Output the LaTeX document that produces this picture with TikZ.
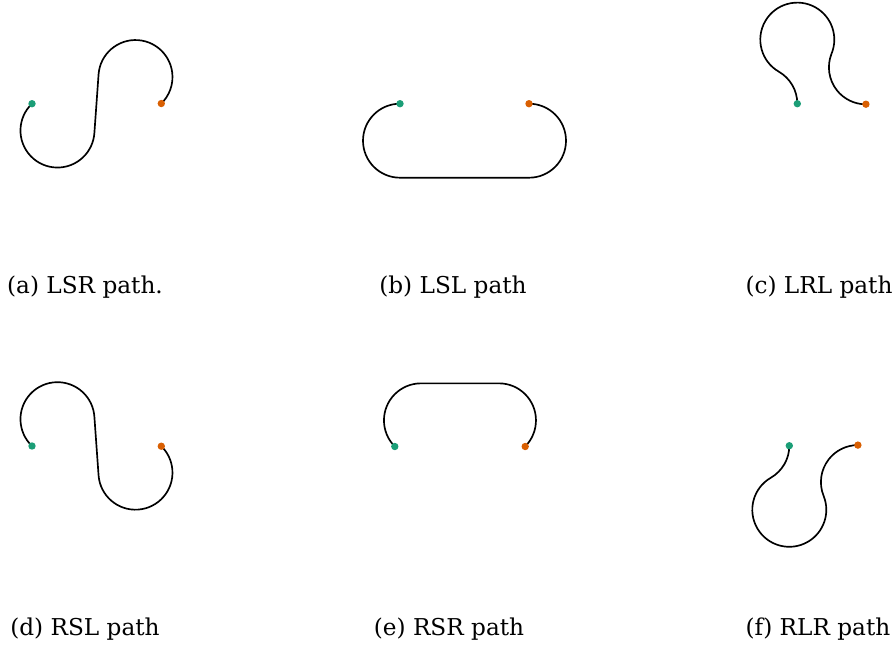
\documentclass[tikz,border=0pt]{standalone}
\usepackage{fontspec}
\setmainfont{DejaVu Serif}
\definecolor{startgreen}{HTML}{1B9E77}
\definecolor{goalorange}{HTML}{D95F02}
\begin{document}
\begin{tikzpicture}[x=0.02cm,y=-0.02cm,
  dubins/.style={line width=0.95pt},
  startdot/.style={circle,fill=startgreen,inner sep=0pt,minimum size=4.2pt},
  goaldot/.style={circle,fill=goalorange,inner sep=0pt,minimum size=4.2pt},
  caption/.style={anchor=base,font=\fontsize{13.2}{16}\selectfont}]
\useasboundingbox (0,0) rectangle (895,650);

% start and goal poses
\coordinate (sA) at (32,103.7);    \coordinate (gA) at (161.3,103.5);
\coordinate (sB) at (400,103.7);   \coordinate (gB) at (529,103.7);
\coordinate (sC) at (797.3,103.7); \coordinate (gC) at (865.9,104.2);
\coordinate (sD) at (32,446);      \coordinate (gD) at (161.3,446.2);
\coordinate (sE) at (394.8,446.5); \coordinate (gE) at (525.2,446.5);
\coordinate (sF) at (789.3,445.7); \coordinate (gF) at (857.9,445.1);

% top row
\draw[dubins] (sA) arc[start angle=226.5,end angle=4.1,radius=37] -- ++(4.2,-58.8)
  arc[start angle=184.1,end angle=405.8,radius=37];
\draw[dubins] (sB) arc[start angle=270,end angle=90,radius=37] -- ++(129,0)
  arc[start angle=90,end angle=-90,radius=37];
\draw[dubins] (sC) arc[start angle=360,end angle=300,radius=37]
  arc[start angle=120,end angle=382,radius=37]
  arc[start angle=202,end angle=90,radius=37];

% bottom row
\draw[dubins] (sD) arc[start angle=133.5,end angle=355.9,radius=37] -- ++(4.2,58.8)
  arc[start angle=175.9,end angle=-45.8,radius=37];
\draw[dubins] (sE) arc[start angle=135,end angle=270,radius=37] -- ++(78,0)
  arc[start angle=270,end angle=405,radius=37];
\draw[dubins] (sF) arc[start angle=0,end angle=60,radius=37]
  arc[start angle=240,end angle=-22,radius=37]
  arc[start angle=158,end angle=270,radius=37];

\foreach \p in {A,B,C,D,E,F} {
  \node[startdot] (start\p) at (s\p) {};
  \node[goaldot] (goal\p) at (g\p) {};
}

\foreach \n/\x/\y/\t in {a/85/293.3/{(a) LSR path.}, b/453/293.3/{(b) LSL path},
    c/819/293.3/{(c) LRL path}, d/85/635.6/{(d) RSL path},
    e/449/635.6/{(e) RSR path}, f/818/635.6/{(f) RLR path}}
  \node[caption] (cap\n) at (\x,\y) {\t};
\end{tikzpicture}
\end{document}
